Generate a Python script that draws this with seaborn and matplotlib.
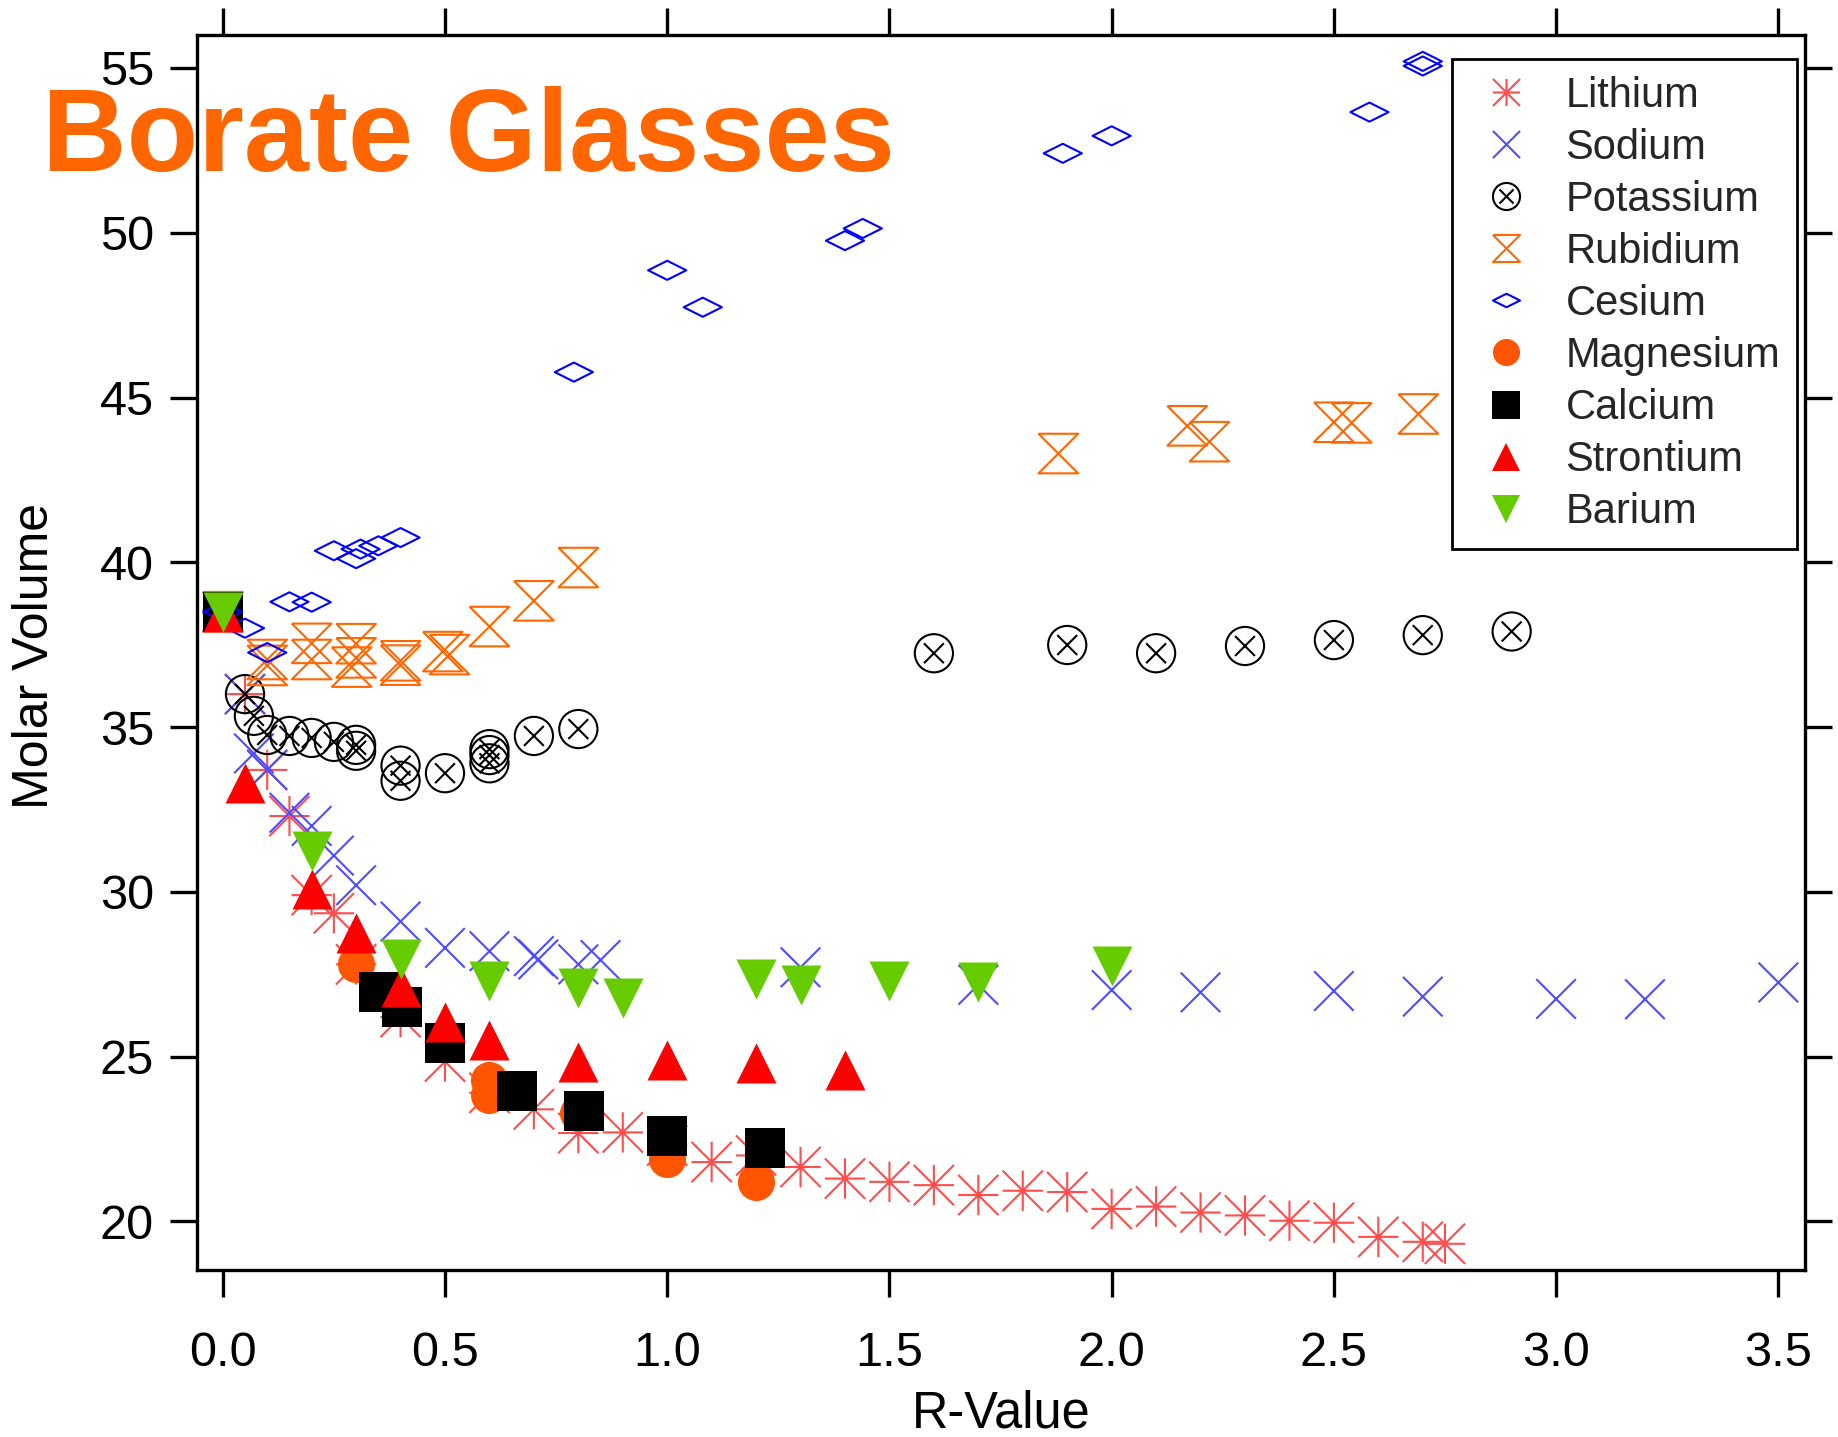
import matplotlib
matplotlib.use("Agg")
import matplotlib.pyplot as plt
from matplotlib.path import Path
from matplotlib.lines import Line2D
import pandas as pd
import seaborn as sns

# Molar volume (cm^3/mol) against R = M2O(MO)/B2O3 for each modifier
li_r = [0.00, 0.05, 0.10, 0.15, 0.20, 0.25, 0.30, 0.40, 0.50, 0.60, 0.70, 0.80, 0.90,
        1.00, 1.10, 1.20, 1.30, 1.40, 1.50, 1.60, 1.70, 1.80, 1.90, 2.00, 2.10, 2.20,
        2.30, 2.40, 2.50, 2.60, 2.70, 2.75]
li_vm = [38.5, 36.0, 33.7, 32.3, 29.9, 29.35, 27.8, 26.2, 24.85, 23.9, 23.4, 22.68, 22.7,
         22.3, 21.8, 22.0, 21.65, 21.3, 21.2, 21.1, 20.8, 20.93, 20.89, 20.38, 20.45, 20.27,
         20.18, 20.02, 19.96, 19.53, 19.38, 19.32]

na_r = [0.00, 0.05, 0.07, 0.10, 0.15, 0.20, 0.25, 0.30, 0.40, 0.50, 0.60, 0.70, 0.71,
        0.80, 0.85, 1.30, 1.70, 2.00, 2.20, 2.50, 2.70, 3.00, 3.20, 3.50]
na_vm = [38.5, 36.0, 34.2, 33.7, 32.4, 32.0, 31.1, 30.2, 29.1, 28.3, 28.2, 28.05, 27.95,
         27.8, 27.93, 27.71, 27.18, 27.02, 26.95, 26.99, 26.82, 26.75, 26.74, 27.25]

k_r = [0.00, 0.05, 0.07, 0.10, 0.15, 0.20, 0.25, 0.30, 0.30, 0.40, 0.40, 0.50, 0.60,
       0.60, 0.60, 0.70, 0.80, 1.60, 1.90, 2.10, 2.30, 2.50, 2.70, 2.90]
k_vm = [38.5, 36.0, 35.34, 34.76, 34.73, 34.67, 34.55, 34.46, 34.28, 33.83, 33.37, 33.6,
        34.33, 34.15, 33.9, 34.73, 34.94, 37.24, 37.49, 37.24, 37.46, 37.64, 37.79, 37.9]

rb_r = [0.00, 0.10, 0.10, 0.20, 0.20, 0.30, 0.30, 0.29, 0.40, 0.40, 0.495, 0.51, 0.60,
        0.70, 0.80, 1.88, 2.17, 2.22, 2.50, 2.54, 2.69]
rb_vm = [38.5, 37.05, 36.87, 37.54, 37.05, 37.53, 37.1, 36.82, 37.01, 36.88, 37.29, 37.2,
         38.05, 38.83, 39.84, 43.3, 44.14, 43.66, 44.25, 44.23, 44.5]

cs_r = [0.00, 0.05, 0.10, 0.15, 0.20, 0.25, 0.30, 0.31, 0.35, 0.40, 0.79, 1.00, 1.08,
        1.40, 1.44, 1.89, 2.00, 2.58, 2.70, 2.70]
cs_vm = [38.5, 38.0, 37.26, 38.8, 38.79, 40.35, 40.11, 40.4, 40.5, 40.75, 45.77, 48.86,
         47.74, 49.76, 50.13, 52.41, 52.94, 53.66, 55.2, 55.06]

mg_r = [0.30, 0.60, 0.60, 0.80, 1.00, 1.20]
mg_vm = [27.8, 24.3, 23.84, 23.3, 21.9, 21.2]

ca_r = [0.00, 0.352, 0.404, 0.50, 0.662, 0.813, 1.00, 1.22]
ca_vm = [38.5, 26.97, 26.5, 25.4, 23.96, 23.35, 22.6, 22.23]

sr_r = [0.00, 0.05, 0.20, 0.30, 0.40, 0.50, 0.60, 0.80, 1.00, 1.20, 1.40]
sr_vm = [38.5, 33.3, 30.1, 28.75, 27.1, 26.06, 25.5, 24.84, 24.9, 24.82, 24.6]

ba_r = [0.00, 0.20, 0.40, 0.60, 0.80, 0.90, 1.20, 1.30, 1.50, 1.70, 2.00]
ba_vm = [38.5, 31.24, 27.96, 27.28, 27.09, 26.78, 27.36, 27.17, 27.28, 27.25, 27.75]

x_ticks = [0.0, 0.5, 1.0, 1.5, 2.0, 2.5, 3.0, 3.5]
y_ticks = [20, 25, 30, 35, 40, 45, 50, 55]

# ---- marker shapes -------------------------------------------------------
M, L, C = Path.MOVETO, Path.LINETO, Path.CLOSEPOLY
asterisk = Path([(0, -1), (0, 1), (-1, 0), (1, 0), (-1, -1), (1, 1), (-1, 1), (1, -1)],
                [M, L, M, L, M, L, M, L])
cross = Path([(-1, -1), (1, 1), (-1, 1), (1, -1)], [M, L, M, L])
inner = 0.52
circle_x = Path.make_compound_path(
    Path.unit_circle(),
    Path([(-inner, -inner), (inner, inner), (-inner, inner), (inner, -inner)], [M, L, M, L]))
hourglass = Path([(-1, 1), (1, 1), (-1, -1), (1, -1), (-1, 1)], [M, L, L, L, L])
diamond = Path([(-1, 0), (0, 0.5), (1, 0), (0, -0.5), (-1, 0)], [M, L, L, L, C])

# name, r, vm, marker, colour, filled, marker size (pt), draw order
series = [
    ("Lithium", li_r, li_vm, asterisk, "#FF4D4D", False, 29, 2),
    ("Sodium", na_r, na_vm, cross, "#4D4DFF", False, 28.5, 3),
    ("Potassium", k_r, k_vm, circle_x, "#000000", False, 27.5, 4),
    ("Rubidium", rb_r, rb_vm, hourglass, "#FF6600", False, 28.5, 5),
    ("Cesium", cs_r, cs_vm, diamond, "#0000FF", False, 27.5, 8),
    ("Magnesium", mg_r, mg_vm, "o", "#FF5500", True, 26.7, 6),
    ("Calcium", ca_r, ca_vm, "s", "#000000", True, 28.8, 7),
    ("Strontium", sr_r, sr_vm, "^", "#FF0000", True, 28.8, 9),
    ("Barium", ba_r, ba_vm, "v", "#66CC00", True, 28.8, 10),
]

frames = [pd.DataFrame({"glass": name, "R": r, "Vm": vm})
          for name, r, vm, *_ in series]
data = pd.concat(frames, ignore_index=True)

sns.set_theme(style="ticks")
plt.rcParams["font.family"] = ["Liberation Sans", "DejaVu Sans"]

fig = plt.figure(figsize=(18.38, 14.37), dpi=100)
fig.patch.set_facecolor("white")
ax = fig.add_axes([0.10718, 0.11656, 0.87486, 0.85908])
ax.patch.set_alpha(0)

for name, r, vm, marker, color, filled, size, order in series:
    sub = data[data["glass"] == name]
    if filled:
        sns.scatterplot(data=sub, x="R", y="Vm", ax=ax, marker=marker, s=size ** 2,
                        color=color, edgecolor=color, linewidth=0, legend=False,
                        zorder=order)
    else:
        sns.scatterplot(data=sub, x="R", y="Vm", ax=ax, marker=marker, s=size ** 2,
                        color=color, facecolor="none", edgecolor=color, linewidth=1.5,
                        legend=False, zorder=order)

ax.set_xlim(-0.058, 3.56)
ax.set_ylim(18.54, 56.0)
ax.set_xticks(x_ticks)
ax.set_xticklabels([f"{v:.1f}" for v in x_ticks])
ax.set_yticks(y_ticks)
ax.set_yticklabels([str(v) for v in y_ticks])

for side in ["left", "right", "top", "bottom"]:
    ax.spines[side].set_visible(True)
    ax.spines[side].set_color("black")
    ax.spines[side].set_linewidth(2.4)
    ax.spines[side].set_zorder(20)

ax.tick_params(axis="both", which="major", direction="out", length=19.4, width=2.4,
               color="black", labelsize=35, labelcolor="black")
ax.tick_params(axis="x", top=True, labeltop=False, pad=25)
ax.tick_params(axis="y", right=True, labelright=False, pad=11.5)

ax.set_xlabel("R-Value", fontsize=36.4, color="black")
ax.set_ylabel("Molar Volume", fontsize=36, color="black")
ax.xaxis.set_label_coords(0.5, -0.0975)
ax.yaxis.set_label_coords(-0.0862, 0.497)

handles = []
for name, r, vm, marker, color, filled, size, order in series:
    if filled:
        h = Line2D([], [], linestyle="none", marker=marker, markersize=19.5,
                   markerfacecolor=color, markeredgecolor=color, markeredgewidth=0)
    else:
        h = Line2D([], [], linestyle="none", marker=marker, markersize=19.5,
                   markerfacecolor="none", markeredgecolor=color, markeredgewidth=1.5)
    handles.append(h)

leg = ax.legend(handles, [s[0] for s in series], loc="upper right",
                bbox_to_anchor=(0.995, 0.9806), borderaxespad=0, fontsize=30,
                frameon=True, fancybox=False, framealpha=1, edgecolor="black",
                borderpad=0.4, handlelength=1.8, handletextpad=0.53,
                labelspacing=0.29)
leg.get_frame().set_linewidth(2.0)
leg.set_zorder(30)

fig.text(42 / 1838, 1 - 170.5 / 1437, "Borate Glasses", fontsize=84.3,
         fontweight="bold", color="#FF6600", ha="left", va="baseline", zorder=-1)

fig.savefig("out.png", dpi=100, facecolor="white")
